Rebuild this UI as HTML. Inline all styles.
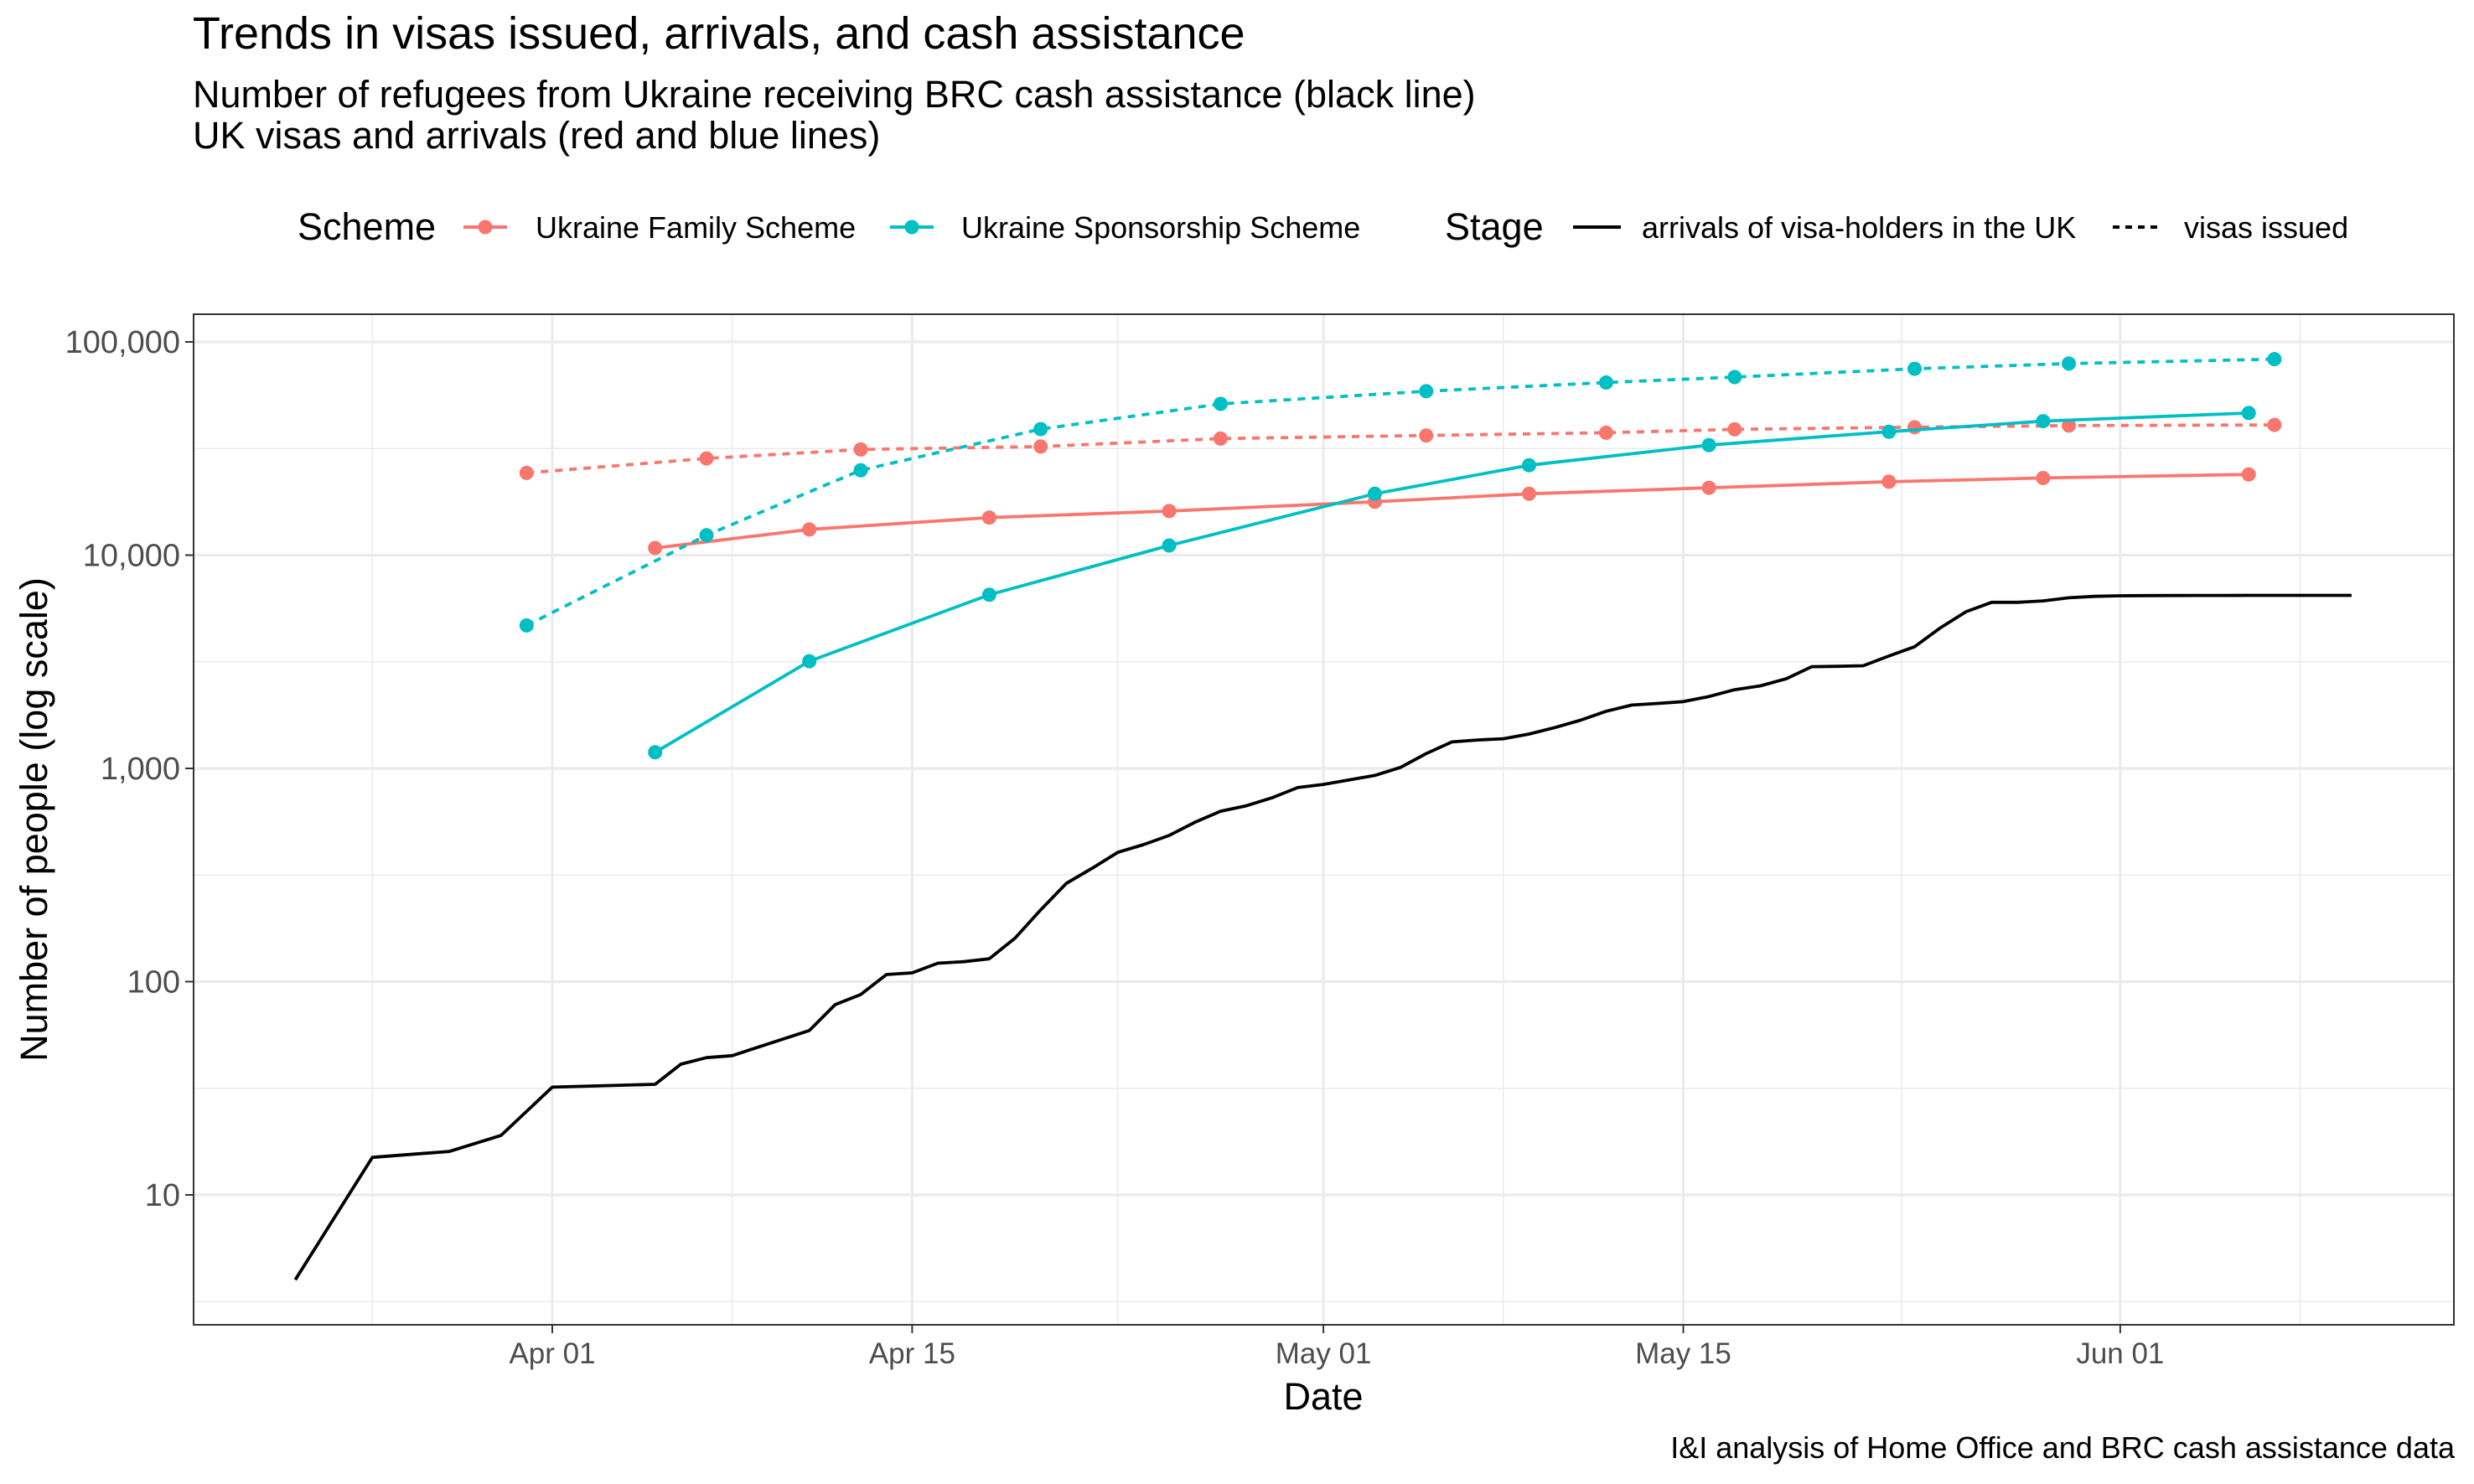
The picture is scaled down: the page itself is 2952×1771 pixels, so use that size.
<!DOCTYPE html>
<html><head><meta charset="utf-8"><style>
html,body{margin:0;padding:0;background:#fff;}
svg{display:block;font-family:"Liberation Sans",Arial,sans-serif;}
</style></head><body>
<svg id="chart" width="2952" height="1771" viewBox="0 0 2952 1771" xmlns="http://www.w3.org/2000/svg">
<rect width="2952" height="1771" fill="#fff"/>
<text x="230" y="58" font-size="54" fill="#000">Trends in visas issued, arrivals, and cash assistance</text>
<text x="230" y="128" font-size="45" fill="#000">Number of refugees from Ukraine receiving BRC cash assistance (black line)</text>
<text x="230" y="177" font-size="45" fill="#000">UK visas and arrivals (red and blue lines)</text>
<g>
  <text x="355" y="286" font-size="45">Scheme</text>
  <g>
    <line x1="553" y1="271" x2="605" y2="271" stroke="#F8766D" stroke-width="4"/>
    <circle cx="579" cy="271" r="8.5" fill="#F8766D"/>
    <text x="639" y="284" font-size="36">Ukraine Family Scheme</text>
  </g>
  <g>
    <line x1="1062" y1="271" x2="1114" y2="271" stroke="#00BFC4" stroke-width="4"/>
    <circle cx="1088" cy="271" r="8.5" fill="#00BFC4"/>
    <text x="1147" y="284" font-size="36">Ukraine Sponsorship Scheme</text>
  </g>
  <text x="1724" y="286" font-size="45">Stage</text>
  <g>
    <line x1="1877" y1="271" x2="1934" y2="271" stroke="#000" stroke-width="4"/>
    <text x="1959" y="284" font-size="36">arrivals of visa-holders in the UK</text>
  </g>
  <g>
    <line x1="2521" y1="271" x2="2577" y2="271" stroke="#000" stroke-width="4" stroke-dasharray="8,7"/>
    <text x="2606" y="284" font-size="36">visas issued</text>
  </g>
</g>
<g id="grid"></g>
<g id="marks"></g>
<rect x="231" y="375" width="2697" height="1206" fill="none" stroke="#333" stroke-width="2"/>
<g id="axes"></g>
<text x="1579" y="1682" font-size="45" text-anchor="middle">Date</text>
<text transform="translate(56,978) rotate(-90)" font-size="45" text-anchor="middle">Number of people (log scale)</text>
<text x="2929" y="1740" font-size="36" text-anchor="end">I&amp;I analysis of Home Office and BRC cash assistance data</text>
</svg>
<script>
// day offsets from Apr 01
const yTicks = [10, 100, 1000, 10000, 100000];
const yTickLabels = ["10", "100", "1,000", "10,000", "100,000"];
const xTickDays = [0, 14, 30, 44, 61];
const xTickLabels = ["Apr 01", "Apr 15", "May 01", "May 15", "Jun 01"];
const xMinorDays = [-7, 7, 22, 37, 52.5, 68];

const cashDays = [-10,-7,-4,-2,0,4,5,6,7,10,11,12,13,14,15,16,17,18,19,20,21,22,23,24,25,26,27,28,29,30,31,32,33,34,35,36,37,38,39,40,41,42,43,44,45,46,47,48,49,50,51,52,53,54,55,56,57,58,59,60,61,62,63,64,65,66,67,68,69,70];
const cashValues = [4,15,16,19,32,33,41,44,45,59,78,87,108,110,122,124,128,160,217,289,340,404,439,485,559,630,668,728,813,841,883,927,1011,1174,1331,1359,1377,1449,1553,1682,1853,1981,2016,2057,2174,2339,2439,2630,3000,3010,3030,3365,3719,4560,5430,6010,6010,6100,6310,6410,6450,6460,6465,6470,6470,6475,6475,6480,6480,6480];

const famVisaDays = [-1,6,12,19,26,34,41,46,53,59,67];
const famVisaValues = [24300,28400,31300,32300,35200,36400,37500,38900,39800,40500,40800];
const famArrDays = [4,10,17,24,32,38,45,52,58,66];
const famArrValues = [10800,13200,15000,16100,17800,19400,20700,22100,23000,23900];
const spVisaDays = [-1,6,12,19,26,34,41,46,53,59,67];
const spVisaValues = [4680,12400,25000,39000,51200,58700,64500,68400,74800,79100,83000];
const spArrDays = [4,10,17,24,32,38,45,52,58,66];
const spArrValues = [1190,3180,6520,11100,19400,26400,32800,37900,42500,46400];

const NS = "http://www.w3.org/2000/svg";
const X0 = 659, PXDAY = 30.67, Y10 = 1426, DEC = 254.5;
const PL = 231, PR = 2928, PT = 375, PB = 1581;
function xs(d){ return X0 + d*PXDAY; }
function ys(v){ return Y10 - (Math.log10(v) - 1)*DEC; }
function mk(tag, attrs, parent){
  const e = document.createElementNS(NS, tag);
  for (const k in attrs) e.setAttribute(k, attrs[k]);
  parent.appendChild(e); return e;
}
const grid = document.getElementById('grid');
const marks = document.getElementById('marks');
const axes = document.getElementById('axes');

[0.5, 1.5, 2.5, 3.5, 4.5].forEach(function(p){
  const y = ys(Math.pow(10, p));
  const l = mk('line', {x1:PL, x2:PR, y1:y, y2:y, stroke:'#EBEBEB', 'stroke-width':1.6}, grid);
  
  
});
xMinorDays.forEach(function(d){
  const x = xs(d);
  const l = mk('line', {x1:x, x2:x, y1:PT, y2:PB, stroke:'#EBEBEB', 'stroke-width':1.6}, grid);
  
  
});
yTicks.forEach(function(v, i){
  const y = ys(v);
  const l = mk('line', {x1:PL, x2:PR, y1:y, y2:y, stroke:'#EBEBEB', 'stroke-width':3.2}, grid);
  
  
  const t = mk('line', {x1:PL-10, x2:PL, y1:y, y2:y, stroke:'#333', 'stroke-width':2}, axes);
  
  
  const tx = mk('text', {x:PL-16, y:y+13, 'font-size':38, 'text-anchor':'end', fill:'#4D4D4D'}, axes);
  tx.textContent = yTickLabels[i];
  
  
});
xTickDays.forEach(function(d, i){
  const x = xs(d);
  const l = mk('line', {x1:x, x2:x, y1:PT, y2:PB, stroke:'#EBEBEB', 'stroke-width':3.2}, grid);
  
  
  const t = mk('line', {x1:x, x2:x, y1:PB, y2:PB+10, stroke:'#333', 'stroke-width':2}, axes);
  
  
  const tx = mk('text', {x:x, y:PB+46, 'font-size':35, 'text-anchor':'middle', fill:'#4D4D4D'}, axes);
  tx.textContent = xTickLabels[i];
  
  
});

function series(days, vals, color, dashed, pts, name){
  const d = days.map(function(dd, i){ return (i ? 'L' : 'M') + xs(dd).toFixed(1) + ',' + ys(vals[i]).toFixed(1); }).join(' ');
  const p = mk('path', {d:d, fill:'none', stroke:color, 'stroke-width':3.8, 'stroke-linejoin':'round'}, marks);
  if (dashed) p.setAttribute('stroke-dasharray', '9,8');
  
  
  if (pts) days.forEach(function(dd, i){
    const c = mk('circle', {cx:xs(dd), cy:ys(vals[i]), r:8.5, fill:color}, marks);
    
    
  });
}
series(cashDays, cashValues, '#000', false, false, 'cash-assistance');
series(famVisaDays, famVisaValues, '#F8766D', true, true, 'family-visas');
series(famArrDays, famArrValues, '#F8766D', false, true, 'family-arrivals');
series(spVisaDays, spVisaValues, '#00BFC4', true, true, 'sponsorship-visas');
series(spArrDays, spArrValues, '#00BFC4', false, true, 'sponsorship-arrivals');
</script>
</body></html>
